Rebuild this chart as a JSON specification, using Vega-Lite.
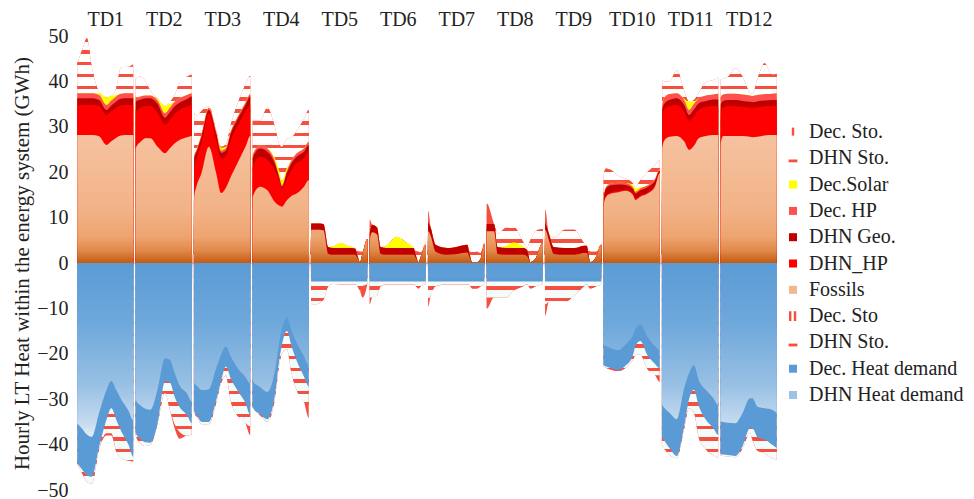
{
"$schema": "https://vega.github.io/schema/vega-lite/v6.json",
"width": 702, "height": 454,
"autosize": {"type": "none"},
"padding": {"left": 76, "top": 36, "right": 196, "bottom": 9},
"background": "white",
"config": {"view": {"stroke": null}, "font": "Liberation Serif"},
"datasets": {
"order": [{"key":"fossils","ord":1},{"key":"dhn_hp","ord":2},{"key":"dhn_geo","ord":3},{"key":"dec_hp","ord":4},{"key":"solar","ord":5},{"key":"dhn_sto","ord":6},{"key":"dec_sto","ord":7},{"key":"dhn_dem","ord":8},{"key":"dec_dem","ord":9},{"key":"dhn_chg","ord":10},{"key":"dec_chg","ord":11}],
"heat": [
{"t":0.5,"fossils":28.2,"dhn_hp":6.6,"dhn_geo":1.5,"dec_hp":1.1,"solar":0,"dhn_sto":6.6,"dec_sto":0,"dhn_dem":-35.3,"dec_dem":-8.8,"dhn_chg":-0.3,"dec_chg":-0.01},
{"t":2.5,"fossils":28.2,"dhn_hp":6.6,"dhn_geo":1.5,"dec_hp":1.1,"solar":0,"dhn_sto":9.5,"dec_sto":0,"dhn_dem":-36.5,"dec_dem":-9.0,"dhn_chg":-0.8,"dec_chg":-0.01},
{"t":4.5,"fossils":28.2,"dhn_hp":6.6,"dhn_geo":1.5,"dec_hp":1.1,"solar":0,"dhn_sto":12.1,"dec_sto":0,"dhn_dem":-37.8,"dec_dem":-9.0,"dhn_chg":-1.5,"dec_chg":-0.01},
{"t":6.5,"fossils":28.2,"dhn_hp":6.6,"dhn_geo":1.5,"dec_hp":1.1,"solar":0,"dhn_sto":5.8,"dec_sto":0,"dhn_dem":-38.3,"dec_dem":-8.8,"dhn_chg":-1.5,"dec_chg":-0.01},
{"t":9.5,"fossils":27.9,"dhn_hp":6.6,"dhn_geo":1.4,"dec_hp":1.1,"solar":0.4,"dhn_sto":0.3,"dec_sto":0,"dhn_dem":-33.0,"dec_dem":-7.5,"dhn_chg":-0.5,"dec_chg":-0.01},
{"t":12.5,"fossils":26.0,"dhn_hp":6.6,"dhn_geo":1.1,"dec_hp":1.1,"solar":1.7,"dhn_sto":0,"dec_sto":0,"dhn_dem":-28.0,"dec_dem":-6.5,"dhn_chg":-3.0,"dec_chg":-0.5},
{"t":14.5,"fossils":26.8,"dhn_hp":6.6,"dhn_geo":1.3,"dec_hp":1.1,"solar":1.0,"dhn_sto":0,"dec_sto":0,"dhn_dem":-26.0,"dec_dem":-6.0,"dhn_chg":-5.5,"dec_chg":-0.5},
{"t":16.5,"fossils":27.6,"dhn_hp":6.6,"dhn_geo":1.4,"dec_hp":1.1,"solar":0.3,"dhn_sto":1.5,"dec_sto":0,"dhn_dem":-28.0,"dec_dem":-6.5,"dhn_chg":-7.0,"dec_chg":-0.01},
{"t":18.5,"fossils":28.1,"dhn_hp":6.6,"dhn_geo":1.5,"dec_hp":1.1,"solar":0,"dhn_sto":5.8,"dec_sto":0,"dhn_dem":-30.0,"dec_dem":-7.0,"dhn_chg":-6.0,"dec_chg":-0.01},
{"t":21.5,"fossils":28.2,"dhn_hp":6.6,"dhn_geo":1.5,"dec_hp":1.1,"solar":0,"dhn_sto":5.8,"dec_sto":0,"dhn_dem":-32.5,"dec_dem":-7.5,"dhn_chg":-3.5,"dec_chg":-0.01},
{"t":23.5,"fossils":28.2,"dhn_hp":6.6,"dhn_geo":1.5,"dec_hp":1.1,"solar":0,"dhn_sto":5.8,"dec_sto":0.5,"dhn_dem":-34.7,"dec_dem":-8.0,"dhn_chg":-1.0,"dec_chg":-0.01},
{"t":23.65,"fossils":0,"dhn_hp":0,"dhn_geo":0,"dec_hp":0,"solar":0,"dhn_sto":0,"dec_sto":0,"dhn_dem":-0.01,"dec_dem":-0.01,"dhn_chg":-0.01,"dec_chg":-0.01},
{"t":24.35,"fossils":0,"dhn_hp":0,"dhn_geo":0,"dec_hp":0,"solar":0,"dhn_sto":0,"dec_sto":0,"dhn_dem":-0.01,"dec_dem":-0.01,"dhn_chg":-0.01,"dec_chg":-0.01},
{"t":24.5,"fossils":25.3,"dhn_hp":8.0,"dhn_geo":2.2,"dec_hp":0.8,"solar":0,"dhn_sto":4.4,"dec_sto":0,"dhn_dem":-30.2,"dec_dem":-7.3,"dhn_chg":-0.5,"dec_chg":-0.01},
{"t":26.5,"fossils":26.7,"dhn_hp":7.5,"dhn_geo":1.8,"dec_hp":0.7,"solar":0,"dhn_sto":4.3,"dec_sto":0,"dhn_dem":-31.4,"dec_dem":-7.4,"dhn_chg":-1.0,"dec_chg":-0.01},
{"t":28.5,"fossils":27.5,"dhn_hp":7.1,"dhn_geo":1.7,"dec_hp":0.6,"solar":0,"dhn_sto":3.1,"dec_sto":0,"dhn_dem":-32.1,"dec_dem":-7.4,"dhn_chg":-0.8,"dec_chg":-0.01},
{"t":30.5,"fossils":27.5,"dhn_hp":7.1,"dhn_geo":1.7,"dec_hp":0.6,"solar":0,"dhn_sto":1.1,"dec_sto":0,"dhn_dem":-32.3,"dec_dem":-7.3,"dhn_chg":-0.5,"dec_chg":-0.01},
{"t":33.5,"fossils":25.6,"dhn_hp":7.4,"dhn_geo":2.0,"dec_hp":0.8,"solar":0.3,"dhn_sto":0,"dec_sto":0,"dhn_dem":-27.8,"dec_dem":-7.5,"dhn_chg":-0.01,"dec_chg":-0.01},
{"t":36.5,"fossils":24.2,"dhn_hp":6.3,"dhn_geo":1.5,"dec_hp":1.0,"solar":1.6,"dhn_sto":0,"dec_sto":0,"dhn_dem":-21.0,"dec_dem":-5.1,"dhn_chg":-2.5,"dec_chg":-0.01},
{"t":38.5,"fossils":25.3,"dhn_hp":6.2,"dhn_geo":1.7,"dec_hp":1.0,"solar":0.8,"dhn_sto":0.5,"dec_sto":0,"dhn_dem":-21.3,"dec_dem":-5.0,"dhn_chg":-6.0,"dec_chg":-0.01},
{"t":40.5,"fossils":26.4,"dhn_hp":6.4,"dhn_geo":1.7,"dec_hp":1.0,"solar":0,"dhn_sto":1.5,"dec_sto":0,"dhn_dem":-24.3,"dec_dem":-5.2,"dhn_chg":-6.0,"dec_chg":-1.0},
{"t":42.5,"fossils":27.1,"dhn_hp":6.6,"dhn_geo":1.6,"dec_hp":1.0,"solar":0,"dhn_sto":3.5,"dec_sto":0,"dhn_dem":-27.0,"dec_dem":-4.7,"dhn_chg":-5.5,"dec_chg":-1.5},
{"t":45.5,"fossils":27.7,"dhn_hp":6.7,"dhn_geo":1.7,"dec_hp":0.9,"solar":0,"dhn_sto":4.0,"dec_sto":0,"dhn_dem":-28.7,"dec_dem":-4.8,"dhn_chg":-4.5,"dec_chg":-0.01},
{"t":47.5,"fossils":28.0,"dhn_hp":6.8,"dhn_geo":1.9,"dec_hp":0.7,"solar":0,"dhn_sto":3.6,"dec_sto":0.5,"dhn_dem":-30.5,"dec_dem":-4.8,"dhn_chg":-2.5,"dec_chg":-0.01},
{"t":47.65,"fossils":0,"dhn_hp":0,"dhn_geo":0,"dec_hp":0,"solar":0,"dhn_sto":0,"dec_sto":0,"dhn_dem":-0.01,"dec_dem":-0.01,"dhn_chg":-0.01,"dec_chg":-0.01},
{"t":48.35,"fossils":0,"dhn_hp":0,"dhn_geo":0,"dec_hp":0,"solar":0,"dhn_sto":0,"dec_sto":0,"dhn_dem":-0.01,"dec_dem":-0.01,"dhn_chg":-0.01,"dec_chg":-0.01},
{"t":48.5,"fossils":14.6,"dhn_hp":6.6,"dhn_geo":1.9,"dec_hp":0.5,"solar":0,"dhn_sto":9.4,"dec_sto":0,"dhn_dem":-26.5,"dec_dem":-6.2,"dhn_chg":-0.3,"dec_chg":-0.01},
{"t":49.5,"fossils":17.0,"dhn_hp":6.0,"dhn_geo":1.5,"dec_hp":0.5,"solar":0,"dhn_sto":7.5,"dec_sto":0,"dhn_dem":-27.0,"dec_dem":-6.5,"dhn_chg":-0.3,"dec_chg":-0.01},
{"t":51.5,"fossils":19.8,"dhn_hp":6.6,"dhn_geo":1.4,"dec_hp":0.5,"solar":0,"dhn_sto":5.2,"dec_sto":0,"dhn_dem":-28.0,"dec_dem":-7.0,"dhn_chg":-0.5,"dec_chg":-0.01},
{"t":54.5,"fossils":25.6,"dhn_hp":7.4,"dhn_geo":0.7,"dec_hp":0.5,"solar":0,"dhn_sto":0.3,"dec_sto":0,"dhn_dem":-27.8,"dec_dem":-7.2,"dhn_chg":-0.5,"dec_chg":-0.01},
{"t":57.5,"fossils":19.8,"dhn_hp":7.3,"dhn_geo":1.4,"dec_hp":0.5,"solar":0,"dhn_sto":0.2,"dec_sto":0,"dhn_dem":-23.2,"dec_dem":-7.1,"dhn_chg":-0.5,"dec_chg":-0.01},
{"t":59.5,"fossils":15.4,"dhn_hp":7.6,"dhn_geo":1.3,"dec_hp":0.5,"solar":0.6,"dhn_sto":0.2,"dec_sto":0,"dhn_dem":-20.2,"dec_dem":-5.8,"dhn_chg":-0.5,"dec_chg":-0.01},
{"t":61.5,"fossils":16.6,"dhn_hp":6.9,"dhn_geo":1.3,"dec_hp":0.5,"solar":0.3,"dhn_sto":0.5,"dec_sto":0,"dhn_dem":-18.4,"dec_dem":-4.4,"dhn_chg":-2.0,"dec_chg":-0.01},
{"t":63.5,"fossils":19.0,"dhn_hp":8.1,"dhn_geo":1.4,"dec_hp":0.5,"solar":0,"dhn_sto":1.5,"dec_sto":0,"dhn_dem":-20.6,"dec_dem":-4.9,"dhn_chg":-5.0,"dec_chg":-0.01},
{"t":66.5,"fossils":22.3,"dhn_hp":8.1,"dhn_geo":1.5,"dec_hp":0.5,"solar":0,"dhn_sto":3.0,"dec_sto":0,"dhn_dem":-23.3,"dec_dem":-5.0,"dhn_chg":-5.5,"dec_chg":-0.01},
{"t":69.5,"fossils":25.6,"dhn_hp":7.7,"dhn_geo":1.5,"dec_hp":0.5,"solar":0,"dhn_sto":4.0,"dec_sto":0,"dhn_dem":-25.1,"dec_dem":-5.7,"dhn_chg":-4.5,"dec_chg":-0.01},
{"t":71.5,"fossils":28.0,"dhn_hp":6.8,"dhn_geo":1.9,"dec_hp":0.5,"solar":0,"dhn_sto":4.0,"dec_sto":0,"dhn_dem":-26.5,"dec_dem":-7.0,"dhn_chg":-2.5,"dec_chg":-2.0},
{"t":71.65,"fossils":0,"dhn_hp":0,"dhn_geo":0,"dec_hp":0,"solar":0,"dhn_sto":0,"dec_sto":0,"dhn_dem":-0.01,"dec_dem":-0.01,"dhn_chg":-0.01,"dec_chg":-0.01},
{"t":72.35,"fossils":0,"dhn_hp":0,"dhn_geo":0,"dec_hp":0,"solar":0,"dhn_sto":0,"dec_sto":0,"dhn_dem":-0.01,"dec_dem":-0.01,"dhn_chg":-0.01,"dec_chg":-0.01},
{"t":72.5,"fossils":14.6,"dhn_hp":6.6,"dhn_geo":1.9,"dec_hp":0.7,"solar":0,"dhn_sto":7.6,"dec_sto":0,"dhn_dem":-26.0,"dec_dem":-5.8,"dhn_chg":-0.01,"dec_chg":-0.01},
{"t":75.5,"fossils":16.8,"dhn_hp":6.6,"dhn_geo":1.8,"dec_hp":0.7,"solar":0,"dhn_sto":5.5,"dec_sto":0,"dhn_dem":-27.3,"dec_dem":-6.0,"dhn_chg":-0.2,"dec_chg":-0.01},
{"t":78.5,"fossils":16.0,"dhn_hp":6.7,"dhn_geo":1.8,"dec_hp":0.7,"solar":0,"dhn_sto":9.0,"dec_sto":0,"dhn_dem":-28.4,"dec_dem":-6.0,"dhn_chg":-0.5,"dec_chg":-0.01},
{"t":81.5,"fossils":13.5,"dhn_hp":7.0,"dhn_geo":1.5,"dec_hp":0.6,"solar":0.6,"dhn_sto":7.0,"dec_sto":0,"dhn_dem":-24.0,"dec_dem":-5.5,"dhn_chg":-0.8,"dec_chg":-0.01},
{"t":83.5,"fossils":12.6,"dhn_hp":5.4,"dhn_geo":0.5,"dec_hp":0.4,"solar":1.2,"dhn_sto":6.0,"dec_sto":0,"dhn_dem":-17.0,"dec_dem":-4.0,"dhn_chg":-1.0,"dec_chg":-0.01},
{"t":84.5,"fossils":12.4,"dhn_hp":4.0,"dhn_geo":0.4,"dec_hp":0.3,"solar":1.0,"dhn_sto":7.5,"dec_sto":0,"dhn_dem":-14.5,"dec_dem":-3.5,"dhn_chg":-2.0,"dec_chg":-0.01},
{"t":86.5,"fossils":13.8,"dhn_hp":4.7,"dhn_geo":1.3,"dec_hp":0.5,"solar":0.6,"dhn_sto":6.5,"dec_sto":0,"dhn_dem":-12.0,"dec_dem":-3.0,"dhn_chg":-4.0,"dec_chg":-0.01},
{"t":88.5,"fossils":14.8,"dhn_hp":5.7,"dhn_geo":1.5,"dec_hp":0.7,"solar":0,"dhn_sto":5.0,"dec_sto":0,"dhn_dem":-15.0,"dec_dem":-3.5,"dhn_chg":-6.0,"dec_chg":-0.01},
{"t":90.5,"fossils":15.3,"dhn_hp":6.7,"dhn_geo":1.4,"dec_hp":0.7,"solar":0,"dhn_sto":5.0,"dec_sto":0,"dhn_dem":-17.5,"dec_dem":-4.0,"dhn_chg":-6.5,"dec_chg":-0.01},
{"t":93.5,"fossils":16.8,"dhn_hp":6.3,"dhn_geo":1.4,"dec_hp":0.7,"solar":0,"dhn_sto":6.5,"dec_sto":0,"dhn_dem":-20.5,"dec_dem":-4.5,"dhn_chg":-5.5,"dec_chg":-0.01},
{"t":95.5,"fossils":18.3,"dhn_hp":6.2,"dhn_geo":1.5,"dec_hp":0.7,"solar":0,"dhn_sto":7.0,"dec_sto":0,"dhn_dem":-22.5,"dec_dem":-4.7,"dhn_chg":-4.0,"dec_chg":-3.0},
{"t":95.65,"fossils":0,"dhn_hp":0,"dhn_geo":0,"dec_hp":0,"solar":0,"dhn_sto":0,"dec_sto":0,"dhn_dem":-0.01,"dec_dem":-0.01,"dhn_chg":-0.01,"dec_chg":-0.01},
{"t":96.35,"fossils":0,"dhn_hp":0,"dhn_geo":0,"dec_hp":0,"solar":0,"dhn_sto":0,"dec_sto":0,"dhn_dem":-0.01,"dec_dem":-0.01,"dhn_chg":-0.01,"dec_chg":-0.01},
{"t":96.5,"fossils":7.3,"dhn_hp":0,"dhn_geo":1.4,"dec_hp":0,"solar":0,"dhn_sto":0,"dec_sto":0,"dhn_dem":-3.2,"dec_dem":-0.9,"dhn_chg":-5.0,"dec_chg":-0.01},
{"t":98.5,"fossils":7.3,"dhn_hp":0,"dhn_geo":1.4,"dec_hp":0,"solar":0,"dhn_sto":0,"dec_sto":0,"dhn_dem":-3.2,"dec_dem":-0.9,"dhn_chg":-5.0,"dec_chg":-0.01},
{"t":101.5,"fossils":7.2,"dhn_hp":0,"dhn_geo":1.4,"dec_hp":0,"solar":0,"dhn_sto":0,"dec_sto":0,"dhn_dem":-3.2,"dec_dem":-0.9,"dhn_chg":-4.0,"dec_chg":-0.01},
{"t":103.5,"fossils":2.0,"dhn_hp":0,"dhn_geo":1.5,"dec_hp":0,"solar":0,"dhn_sto":0,"dec_sto":0,"dhn_dem":-3.2,"dec_dem":-0.9,"dhn_chg":-1.0,"dec_chg":-0.01},
{"t":105.5,"fossils":1.8,"dhn_hp":0,"dhn_geo":1.5,"dec_hp":0,"solar":0.4,"dhn_sto":0,"dec_sto":0,"dhn_dem":-3.2,"dec_dem":-0.9,"dhn_chg":-0.5,"dec_chg":-0.01},
{"t":108.5,"fossils":1.8,"dhn_hp":0,"dhn_geo":1.5,"dec_hp":0,"solar":1.1,"dhn_sto":0,"dec_sto":0,"dhn_dem":-3.2,"dec_dem":-0.9,"dhn_chg":-0.6,"dec_chg":-0.01},
{"t":111.5,"fossils":1.8,"dhn_hp":0,"dhn_geo":1.5,"dec_hp":0,"solar":0.5,"dhn_sto":0,"dec_sto":0,"dhn_dem":-3.2,"dec_dem":-0.9,"dhn_chg":-0.6,"dec_chg":-0.01},
{"t":114.5,"fossils":1.8,"dhn_hp":0,"dhn_geo":1.4,"dec_hp":0,"solar":0,"dhn_sto":0,"dec_sto":0,"dhn_dem":-3.2,"dec_dem":-0.9,"dhn_chg":-0.6,"dec_chg":-0.01},
{"t":115.5,"fossils":1.0,"dhn_hp":0,"dhn_geo":0.6,"dec_hp":0,"solar":0,"dhn_sto":1.0,"dec_sto":0,"dhn_dem":-3.2,"dec_dem":-0.9,"dhn_chg":-1.0,"dec_chg":-0.01},
{"t":116.5,"fossils":0.2,"dhn_hp":0,"dhn_geo":0,"dec_hp":0,"solar":0,"dhn_sto":2.3,"dec_sto":0,"dhn_dem":-3.2,"dec_dem":-0.9,"dhn_chg":-2.0,"dec_chg":-0.01},
{"t":117.5,"fossils":2.0,"dhn_hp":0,"dhn_geo":0,"dec_hp":0,"solar":0,"dhn_sto":0.5,"dec_sto":0,"dhn_dem":-3.2,"dec_dem":-0.9,"dhn_chg":-1.0,"dec_chg":-2.5},
{"t":119.5,"fossils":5.3,"dhn_hp":0,"dhn_geo":0,"dec_hp":0,"solar":0,"dhn_sto":0,"dec_sto":0,"dhn_dem":-3.2,"dec_dem":-0.9,"dhn_chg":-0.5,"dec_chg":-0.01},
{"t":119.65,"fossils":0,"dhn_hp":0,"dhn_geo":0,"dec_hp":0,"solar":0,"dhn_sto":0,"dec_sto":0,"dhn_dem":-0.01,"dec_dem":-0.01,"dhn_chg":-0.01,"dec_chg":-0.01},
{"t":120.35,"fossils":0,"dhn_hp":0,"dhn_geo":0,"dec_hp":0,"solar":0,"dhn_sto":0,"dec_sto":0,"dhn_dem":-0.01,"dec_dem":-0.01,"dhn_chg":-0.01,"dec_chg":-0.01},
{"t":120.5,"fossils":5.0,"dhn_hp":0,"dhn_geo":1.5,"dec_hp":0,"solar":0,"dhn_sto":0,"dec_sto":3.0,"dhn_dem":-3.2,"dec_dem":-0.9,"dhn_chg":-3.5,"dec_chg":-1.5},
{"t":121.5,"fossils":6.8,"dhn_hp":0,"dhn_geo":1.6,"dec_hp":0,"solar":0,"dhn_sto":0,"dec_sto":0,"dhn_dem":-3.2,"dec_dem":-0.9,"dhn_chg":-3.5,"dec_chg":-0.01},
{"t":123.5,"fossils":6.3,"dhn_hp":0,"dhn_geo":1.5,"dec_hp":0,"solar":0,"dhn_sto":0,"dec_sto":0,"dhn_dem":-3.2,"dec_dem":-0.9,"dhn_chg":-3.0,"dec_chg":-0.01},
{"t":125,"fossils":2.0,"dhn_hp":0,"dhn_geo":1.5,"dec_hp":0,"solar":0,"dhn_sto":0,"dec_sto":0,"dhn_dem":-3.2,"dec_dem":-0.9,"dhn_chg":-1.0,"dec_chg":-0.01},
{"t":127.5,"fossils":1.8,"dhn_hp":0,"dhn_geo":1.5,"dec_hp":0,"solar":0.6,"dhn_sto":0,"dec_sto":0,"dhn_dem":-3.2,"dec_dem":-0.9,"dhn_chg":-0.6,"dec_chg":-0.01},
{"t":131.5,"fossils":1.8,"dhn_hp":0,"dhn_geo":1.5,"dec_hp":0,"solar":2.5,"dhn_sto":0,"dec_sto":0,"dhn_dem":-3.2,"dec_dem":-0.9,"dhn_chg":-0.6,"dec_chg":-0.01},
{"t":135.5,"fossils":1.8,"dhn_hp":0,"dhn_geo":1.5,"dec_hp":0,"solar":1.2,"dhn_sto":0,"dec_sto":0,"dhn_dem":-3.2,"dec_dem":-0.9,"dhn_chg":-0.6,"dec_chg":-0.01},
{"t":138.5,"fossils":1.8,"dhn_hp":0,"dhn_geo":1.5,"dec_hp":0,"solar":0,"dhn_sto":0,"dec_sto":0,"dhn_dem":-3.2,"dec_dem":-0.9,"dhn_chg":-0.6,"dec_chg":-0.01},
{"t":139.5,"fossils":1.0,"dhn_hp":0,"dhn_geo":0.6,"dec_hp":0,"solar":0,"dhn_sto":1.0,"dec_sto":0,"dhn_dem":-3.2,"dec_dem":-0.9,"dhn_chg":-1.0,"dec_chg":-0.01},
{"t":140.5,"fossils":0.2,"dhn_hp":0,"dhn_geo":0,"dec_hp":0,"solar":0,"dhn_sto":2.3,"dec_sto":0,"dhn_dem":-3.2,"dec_dem":-0.9,"dhn_chg":-1.5,"dec_chg":-0.01},
{"t":141.5,"fossils":1.5,"dhn_hp":0,"dhn_geo":0,"dec_hp":0,"solar":0,"dhn_sto":0.8,"dec_sto":0,"dhn_dem":-3.2,"dec_dem":-0.9,"dhn_chg":-1.0,"dec_chg":-0.01},
{"t":143.5,"fossils":4.0,"dhn_hp":0,"dhn_geo":0,"dec_hp":0,"solar":0,"dhn_sto":0.5,"dec_sto":0,"dhn_dem":-3.2,"dec_dem":-0.9,"dhn_chg":-0.5,"dec_chg":-0.01},
{"t":143.65,"fossils":0,"dhn_hp":0,"dhn_geo":0,"dec_hp":0,"solar":0,"dhn_sto":0,"dec_sto":0,"dhn_dem":-0.01,"dec_dem":-0.01,"dhn_chg":-0.01,"dec_chg":-0.01},
{"t":144.35,"fossils":0,"dhn_hp":0,"dhn_geo":0,"dec_hp":0,"solar":0,"dhn_sto":0,"dec_sto":0,"dhn_dem":-0.01,"dec_dem":-0.01,"dhn_chg":-0.01,"dec_chg":-0.01},
{"t":144.5,"fossils":7.0,"dhn_hp":0,"dhn_geo":2.0,"dec_hp":0,"solar":0,"dhn_sto":0,"dec_sto":2.5,"dhn_dem":-3.2,"dec_dem":-0.9,"dhn_chg":-4.0,"dec_chg":-1.5},
{"t":145.5,"fossils":6.0,"dhn_hp":0,"dhn_geo":1.8,"dec_hp":0,"solar":0,"dhn_sto":0,"dec_sto":0,"dhn_dem":-3.2,"dec_dem":-0.9,"dhn_chg":-3.0,"dec_chg":-0.01},
{"t":147.5,"fossils":2.5,"dhn_hp":0,"dhn_geo":1.5,"dec_hp":0,"solar":0,"dhn_sto":0,"dec_sto":0,"dhn_dem":-3.2,"dec_dem":-0.9,"dhn_chg":-1.0,"dec_chg":-0.01},
{"t":152.5,"fossils":1.8,"dhn_hp":0,"dhn_geo":1.5,"dec_hp":0,"solar":0,"dhn_sto":0,"dec_sto":0,"dhn_dem":-3.2,"dec_dem":-0.9,"dhn_chg":-0.6,"dec_chg":-0.01},
{"t":156.5,"fossils":2.0,"dhn_hp":0,"dhn_geo":1.6,"dec_hp":0,"solar":0,"dhn_sto":0,"dec_sto":0,"dhn_dem":-3.2,"dec_dem":-0.9,"dhn_chg":-0.6,"dec_chg":-0.01},
{"t":160.5,"fossils":2.3,"dhn_hp":0,"dhn_geo":1.7,"dec_hp":0,"solar":0,"dhn_sto":0,"dec_sto":0,"dhn_dem":-3.2,"dec_dem":-0.9,"dhn_chg":-0.6,"dec_chg":-0.01},
{"t":161.5,"fossils":1.2,"dhn_hp":0,"dhn_geo":0.8,"dec_hp":0,"solar":0,"dhn_sto":0.5,"dec_sto":0,"dhn_dem":-3.2,"dec_dem":-0.9,"dhn_chg":-0.8,"dec_chg":-0.01},
{"t":162.5,"fossils":0.2,"dhn_hp":0,"dhn_geo":0,"dec_hp":0,"solar":0,"dhn_sto":2.2,"dec_sto":0,"dhn_dem":-3.2,"dec_dem":-0.9,"dhn_chg":-1.5,"dec_chg":-0.01},
{"t":164.5,"fossils":0.2,"dhn_hp":0,"dhn_geo":0,"dec_hp":0,"solar":0,"dhn_sto":2.3,"dec_sto":0,"dhn_dem":-3.2,"dec_dem":-0.9,"dhn_chg":-1.5,"dec_chg":-0.01},
{"t":166,"fossils":1.0,"dhn_hp":0,"dhn_geo":0,"dec_hp":0,"solar":0,"dhn_sto":1.2,"dec_sto":0,"dhn_dem":-3.2,"dec_dem":-0.9,"dhn_chg":-1.0,"dec_chg":-0.01},
{"t":167.5,"fossils":4.2,"dhn_hp":0,"dhn_geo":0,"dec_hp":0,"solar":0,"dhn_sto":0.3,"dec_sto":0,"dhn_dem":-3.2,"dec_dem":-0.9,"dhn_chg":-0.5,"dec_chg":-0.01},
{"t":167.65,"fossils":0,"dhn_hp":0,"dhn_geo":0,"dec_hp":0,"solar":0,"dhn_sto":0,"dec_sto":0,"dhn_dem":-0.01,"dec_dem":-0.01,"dhn_chg":-0.01,"dec_chg":-0.01},
{"t":168.35,"fossils":0,"dhn_hp":0,"dhn_geo":0,"dec_hp":0,"solar":0,"dhn_sto":0,"dec_sto":0,"dhn_dem":-0.01,"dec_dem":-0.01,"dhn_chg":-0.01,"dec_chg":-0.01},
{"t":168.5,"fossils":7.0,"dhn_hp":0,"dhn_geo":1.6,"dec_hp":0,"solar":0,"dhn_sto":0,"dec_sto":4.5,"dhn_dem":-3.2,"dec_dem":-0.9,"dhn_chg":-3.5,"dec_chg":-2.5},
{"t":171.5,"fossils":7.0,"dhn_hp":0,"dhn_geo":1.6,"dec_hp":0,"solar":0,"dhn_sto":0,"dec_sto":0,"dhn_dem":-3.2,"dec_dem":-0.9,"dhn_chg":-3.5,"dec_chg":-0.01},
{"t":173,"fossils":2.0,"dhn_hp":0,"dhn_geo":1.5,"dec_hp":0,"solar":0,"dhn_sto":3.0,"dec_sto":0,"dhn_dem":-3.2,"dec_dem":-0.9,"dhn_chg":-3.5,"dec_chg":-0.01},
{"t":176.5,"fossils":1.8,"dhn_hp":0,"dhn_geo":1.5,"dec_hp":0,"solar":0.5,"dhn_sto":4.0,"dec_sto":0,"dhn_dem":-3.2,"dec_dem":-0.9,"dhn_chg":-3.5,"dec_chg":-0.01},
{"t":179.5,"fossils":1.8,"dhn_hp":0,"dhn_geo":1.5,"dec_hp":0,"solar":1.2,"dhn_sto":3.5,"dec_sto":0,"dhn_dem":-3.2,"dec_dem":-0.9,"dhn_chg":-2.0,"dec_chg":-0.01},
{"t":183.5,"fossils":1.8,"dhn_hp":0,"dhn_geo":1.5,"dec_hp":0,"solar":0.3,"dhn_sto":1.0,"dec_sto":0,"dhn_dem":-3.2,"dec_dem":-0.9,"dhn_chg":-1.0,"dec_chg":-0.01},
{"t":185,"fossils":1.5,"dhn_hp":0,"dhn_geo":1.4,"dec_hp":0,"solar":0,"dhn_sto":0.5,"dec_sto":0,"dhn_dem":-3.2,"dec_dem":-0.9,"dhn_chg":-0.6,"dec_chg":-0.01},
{"t":186.5,"fossils":0.2,"dhn_hp":0,"dhn_geo":0,"dec_hp":0,"solar":0,"dhn_sto":5.0,"dec_sto":0,"dhn_dem":-3.2,"dec_dem":-0.9,"dhn_chg":-1.5,"dec_chg":-0.01},
{"t":188.5,"fossils":1.0,"dhn_hp":0,"dhn_geo":0,"dec_hp":0,"solar":0,"dhn_sto":6.0,"dec_sto":0,"dhn_dem":-3.2,"dec_dem":-0.9,"dhn_chg":-1.0,"dec_chg":-0.01},
{"t":191.5,"fossils":4.5,"dhn_hp":0,"dhn_geo":0,"dec_hp":0,"solar":0,"dhn_sto":3.0,"dec_sto":0,"dhn_dem":-3.2,"dec_dem":-0.9,"dhn_chg":-0.5,"dec_chg":-0.01},
{"t":191.65,"fossils":0,"dhn_hp":0,"dhn_geo":0,"dec_hp":0,"solar":0,"dhn_sto":0,"dec_sto":0,"dhn_dem":-0.01,"dec_dem":-0.01,"dhn_chg":-0.01,"dec_chg":-0.01},
{"t":192.35,"fossils":0,"dhn_hp":0,"dhn_geo":0,"dec_hp":0,"solar":0,"dhn_sto":0,"dec_sto":0,"dhn_dem":-0.01,"dec_dem":-0.01,"dhn_chg":-0.01,"dec_chg":-0.01},
{"t":192.5,"fossils":7.3,"dhn_hp":0,"dhn_geo":1.5,"dec_hp":0,"solar":0,"dhn_sto":0,"dec_sto":3.0,"dhn_dem":-3.2,"dec_dem":-0.9,"dhn_chg":-5.0,"dec_chg":-2.5},
{"t":194,"fossils":5.0,"dhn_hp":0,"dhn_geo":1.5,"dec_hp":0,"solar":0,"dhn_sto":0,"dec_sto":0,"dhn_dem":-3.2,"dec_dem":-0.9,"dhn_chg":-4.5,"dec_chg":-0.01},
{"t":196,"fossils":2.0,"dhn_hp":0,"dhn_geo":1.5,"dec_hp":0,"solar":0,"dhn_sto":2.0,"dec_sto":0,"dhn_dem":-3.2,"dec_dem":-0.9,"dhn_chg":-4.5,"dec_chg":-0.01},
{"t":200.5,"fossils":1.8,"dhn_hp":0,"dhn_geo":1.5,"dec_hp":0,"solar":0,"dhn_sto":4.0,"dec_sto":0,"dhn_dem":-3.2,"dec_dem":-0.9,"dhn_chg":-4.5,"dec_chg":-0.01},
{"t":204.5,"fossils":1.8,"dhn_hp":0,"dhn_geo":1.5,"dec_hp":0,"solar":0,"dhn_sto":4.0,"dec_sto":0,"dhn_dem":-3.2,"dec_dem":-0.9,"dhn_chg":-3.0,"dec_chg":-0.01},
{"t":208.5,"fossils":2.2,"dhn_hp":0,"dhn_geo":1.6,"dec_hp":0,"solar":0,"dhn_sto":0.5,"dec_sto":0,"dhn_dem":-3.2,"dec_dem":-0.9,"dhn_chg":-1.0,"dec_chg":-0.01},
{"t":209.5,"fossils":2.2,"dhn_hp":0,"dhn_geo":1.6,"dec_hp":0,"solar":0,"dhn_sto":0,"dec_sto":0,"dhn_dem":-3.2,"dec_dem":-0.9,"dhn_chg":-0.6,"dec_chg":-0.01},
{"t":211,"fossils":0.2,"dhn_hp":0,"dhn_geo":0,"dec_hp":0,"solar":0,"dhn_sto":2.3,"dec_sto":0,"dhn_dem":-3.2,"dec_dem":-0.9,"dhn_chg":-1.5,"dec_chg":-0.01},
{"t":213.5,"fossils":1.5,"dhn_hp":0,"dhn_geo":0,"dec_hp":0,"solar":0,"dhn_sto":1.0,"dec_sto":0,"dhn_dem":-3.2,"dec_dem":-0.9,"dhn_chg":-1.0,"dec_chg":-0.01},
{"t":215.5,"fossils":4.0,"dhn_hp":0,"dhn_geo":0,"dec_hp":0,"solar":0,"dhn_sto":0.3,"dec_sto":0,"dhn_dem":-3.2,"dec_dem":-0.9,"dhn_chg":-0.5,"dec_chg":-0.01},
{"t":215.65,"fossils":0,"dhn_hp":0,"dhn_geo":0,"dec_hp":0,"solar":0,"dhn_sto":0,"dec_sto":0,"dhn_dem":-0.01,"dec_dem":-0.01,"dhn_chg":-0.01,"dec_chg":-0.01},
{"t":216.35,"fossils":0,"dhn_hp":0,"dhn_geo":0,"dec_hp":0,"solar":0,"dhn_sto":0,"dec_sto":0,"dhn_dem":-0.01,"dec_dem":-0.01,"dhn_chg":-0.01,"dec_chg":-0.01},
{"t":216.5,"fossils":12.8,"dhn_hp":0.3,"dhn_geo":1.1,"dec_hp":0.4,"solar":0,"dhn_sto":5.0,"dec_sto":0,"dhn_dem":-18.1,"dec_dem":-4.4,"dhn_chg":-0.3,"dec_chg":-0.01},
{"t":217.5,"fossils":14.6,"dhn_hp":0.3,"dhn_geo":1.5,"dec_hp":0.4,"solar":0,"dhn_sto":4.0,"dec_sto":0,"dhn_dem":-18.3,"dec_dem":-4.5,"dhn_chg":-0.3,"dec_chg":-0.01},
{"t":219.5,"fossils":15.3,"dhn_hp":0.3,"dhn_geo":1.5,"dec_hp":0.4,"solar":0,"dhn_sto":3.0,"dec_sto":0,"dhn_dem":-18.8,"dec_dem":-4.4,"dhn_chg":-0.3,"dec_chg":-0.01},
{"t":222.5,"fossils":15.6,"dhn_hp":0.3,"dhn_geo":1.4,"dec_hp":0.4,"solar":0,"dhn_sto":1.5,"dec_sto":0,"dhn_dem":-19.2,"dec_dem":-4.4,"dhn_chg":-0.2,"dec_chg":-0.01},
{"t":225.5,"fossils":15.9,"dhn_hp":0.3,"dhn_geo":1.0,"dec_hp":0.4,"solar":0,"dhn_sto":1.0,"dec_sto":0,"dhn_dem":-17.9,"dec_dem":-4.7,"dhn_chg":-0.5,"dec_chg":-0.01},
{"t":228.5,"fossils":15.0,"dhn_hp":0.3,"dhn_geo":1.0,"dec_hp":0.4,"solar":0.5,"dhn_sto":0.3,"dec_sto":0,"dhn_dem":-15.9,"dec_dem":-4.4,"dhn_chg":-1.0,"dec_chg":-0.01},
{"t":229.5,"fossils":13.9,"dhn_hp":0.3,"dhn_geo":1.1,"dec_hp":0.4,"solar":0.7,"dhn_sto":0.3,"dec_sto":0,"dhn_dem":-14.5,"dec_dem":-3.8,"dhn_chg":-2.0,"dec_chg":-0.01},
{"t":231.5,"fossils":14.6,"dhn_hp":0.3,"dhn_geo":1.1,"dec_hp":0.4,"solar":0.3,"dhn_sto":1.5,"dec_sto":0,"dhn_dem":-13.5,"dec_dem":-3.7,"dhn_chg":-3.0,"dec_chg":-0.01},
{"t":234.5,"fossils":15.3,"dhn_hp":0.3,"dhn_geo":1.1,"dec_hp":0.4,"solar":0,"dhn_sto":3.0,"dec_sto":0,"dhn_dem":-16.3,"dec_dem":-4.1,"dhn_chg":-3.0,"dec_chg":-0.01},
{"t":237.5,"fossils":16.8,"dhn_hp":0.3,"dhn_geo":1.0,"dec_hp":0.4,"solar":0,"dhn_sto":3.0,"dec_sto":0,"dhn_dem":-18.3,"dec_dem":-3.9,"dhn_chg":-2.5,"dec_chg":-0.01},
{"t":239.5,"fossils":19.8,"dhn_hp":0.2,"dhn_geo":0.3,"dec_hp":0.4,"solar":0,"dhn_sto":2.0,"dec_sto":0,"dhn_dem":-19.2,"dec_dem":-4.0,"dhn_chg":-1.5,"dec_chg":-1.5},
{"t":239.65,"fossils":0,"dhn_hp":0,"dhn_geo":0,"dec_hp":0,"solar":0,"dhn_sto":0,"dec_sto":0,"dhn_dem":-0.01,"dec_dem":-0.01,"dhn_chg":-0.01,"dec_chg":-0.01},
{"t":240.35,"fossils":0,"dhn_hp":0,"dhn_geo":0,"dec_hp":0,"solar":0,"dhn_sto":0,"dec_sto":0,"dhn_dem":-0.01,"dec_dem":-0.01,"dhn_chg":-0.01,"dec_chg":-0.01},
{"t":240.5,"fossils":25.3,"dhn_hp":6.6,"dhn_geo":1.8,"dec_hp":1.1,"solar":0,"dhn_sto":5.5,"dec_sto":0,"dhn_dem":-31.3,"dec_dem":-7.0,"dhn_chg":-2.0,"dec_chg":-0.01},
{"t":241.5,"fossils":27.1,"dhn_hp":7.0,"dhn_geo":1.1,"dec_hp":1.3,"solar":0,"dhn_sto":3.5,"dec_sto":0,"dhn_dem":-32.0,"dec_dem":-7.2,"dhn_chg":-1.8,"dec_chg":-0.01},
{"t":243.5,"fossils":27.8,"dhn_hp":6.8,"dhn_geo":1.3,"dec_hp":1.3,"solar":0,"dhn_sto":2.8,"dec_sto":0,"dhn_dem":-33.0,"dec_dem":-7.8,"dhn_chg":-1.5,"dec_chg":-0.01},
{"t":246.5,"fossils":28.0,"dhn_hp":6.8,"dhn_geo":1.5,"dec_hp":1.1,"solar":0,"dhn_sto":5.1,"dec_sto":0,"dhn_dem":-34.4,"dec_dem":-8.1,"dhn_chg":-0.5,"dec_chg":-0.01},
{"t":249.5,"fossils":26.8,"dhn_hp":6.5,"dhn_geo":1.5,"dec_hp":1.1,"solar":0.3,"dhn_sto":1.8,"dec_sto":0,"dhn_dem":-27.6,"dec_dem":-8.4,"dhn_chg":-0.5,"dec_chg":-0.01},
{"t":251.5,"fossils":24.9,"dhn_hp":6.4,"dhn_geo":1.3,"dec_hp":1.1,"solar":1.8,"dhn_sto":0,"dec_sto":0,"dhn_dem":-24.3,"dec_dem":-5.7,"dhn_chg":-2.0,"dec_chg":-0.01},
{"t":253.5,"fossils":25.8,"dhn_hp":6.5,"dhn_geo":1.5,"dec_hp":1.2,"solar":0.6,"dhn_sto":0.3,"dec_sto":0,"dhn_dem":-22.5,"dec_dem":-5.4,"dhn_chg":-5.0,"dec_chg":-0.01},
{"t":255.5,"fossils":27.5,"dhn_hp":6.2,"dhn_geo":1.5,"dec_hp":1.1,"solar":0,"dhn_sto":1.2,"dec_sto":0,"dhn_dem":-25.8,"dec_dem":-5.7,"dhn_chg":-7.0,"dec_chg":-0.01},
{"t":258.5,"fossils":28.0,"dhn_hp":6.4,"dhn_geo":1.3,"dec_hp":1.2,"solar":0,"dhn_sto":3.0,"dec_sto":0,"dhn_dem":-28.0,"dec_dem":-6.6,"dhn_chg":-6.5,"dec_chg":-0.01},
{"t":261.5,"fossils":28.2,"dhn_hp":6.4,"dhn_geo":1.4,"dec_hp":1.1,"solar":0,"dhn_sto":3.2,"dec_sto":0,"dhn_dem":-29.8,"dec_dem":-6.6,"dhn_chg":-6.0,"dec_chg":-0.01},
{"t":263.5,"fossils":28.2,"dhn_hp":6.4,"dhn_geo":1.4,"dec_hp":1.3,"solar":0,"dhn_sto":3.5,"dec_sto":0,"dhn_dem":-31.3,"dec_dem":-6.6,"dhn_chg":-5.0,"dec_chg":-0.01},
{"t":263.65,"fossils":0,"dhn_hp":0,"dhn_geo":0,"dec_hp":0,"solar":0,"dhn_sto":0,"dec_sto":0,"dhn_dem":-0.01,"dec_dem":-0.01,"dhn_chg":-0.01,"dec_chg":-0.01},
{"t":264.35,"fossils":0,"dhn_hp":0,"dhn_geo":0,"dec_hp":0,"solar":0,"dhn_sto":0,"dec_sto":0,"dhn_dem":-0.01,"dec_dem":-0.01,"dhn_chg":-0.01,"dec_chg":-0.01},
{"t":264.5,"fossils":26.4,"dhn_hp":6.6,"dhn_geo":2.0,"dec_hp":1.5,"solar":0,"dhn_sto":4.0,"dec_sto":0,"dhn_dem":-34.9,"dec_dem":-7.2,"dhn_chg":-0.3,"dec_chg":-0.01},
{"t":265.5,"fossils":28.0,"dhn_hp":6.3,"dhn_geo":1.4,"dec_hp":1.4,"solar":0,"dhn_sto":3.5,"dec_sto":0,"dhn_dem":-35.0,"dec_dem":-7.2,"dhn_chg":-0.3,"dec_chg":-0.01},
{"t":267.5,"fossils":28.0,"dhn_hp":6.6,"dhn_geo":1.3,"dec_hp":1.4,"solar":0,"dhn_sto":3.7,"dec_sto":0,"dhn_dem":-35.2,"dec_dem":-7.1,"dhn_chg":-0.3,"dec_chg":-0.01},
{"t":270.5,"fossils":28.0,"dhn_hp":6.5,"dhn_geo":1.4,"dec_hp":1.4,"solar":0,"dhn_sto":5.6,"dec_sto":0,"dhn_dem":-35.3,"dec_dem":-7.2,"dhn_chg":-0.3,"dec_chg":-0.01},
{"t":273.5,"fossils":28.0,"dhn_hp":6.4,"dhn_geo":1.3,"dec_hp":1.4,"solar":0,"dhn_sto":3.9,"dec_sto":0,"dhn_dem":-33.0,"dec_dem":-7.3,"dhn_chg":-0.5,"dec_chg":-0.01},
{"t":276.5,"fossils":27.8,"dhn_hp":6.4,"dhn_geo":1.3,"dec_hp":1.4,"solar":0,"dhn_sto":0.6,"dec_sto":0,"dhn_dem":-29.8,"dec_dem":-6.6,"dhn_chg":-1.0,"dec_chg":-0.01},
{"t":277.5,"fossils":27.7,"dhn_hp":6.5,"dhn_geo":1.2,"dec_hp":1.4,"solar":0,"dhn_sto":0.4,"dec_sto":0,"dhn_dem":-29.8,"dec_dem":-6.6,"dhn_chg":-2.5,"dec_chg":-0.01},
{"t":279.5,"fossils":27.8,"dhn_hp":6.5,"dhn_geo":1.3,"dec_hp":1.4,"solar":0,"dhn_sto":3.5,"dec_sto":0,"dhn_dem":-31.6,"dec_dem":-6.7,"dhn_chg":-3.0,"dec_chg":-0.01},
{"t":282.5,"fossils":28.1,"dhn_hp":6.4,"dhn_geo":1.3,"dec_hp":1.4,"solar":0,"dhn_sto":6.8,"dec_sto":0,"dhn_dem":-32.0,"dec_dem":-6.9,"dhn_chg":-3.0,"dec_chg":-0.01},
{"t":285.5,"fossils":28.2,"dhn_hp":6.4,"dhn_geo":1.3,"dec_hp":1.4,"solar":0,"dhn_sto":4.2,"dec_sto":0,"dhn_dem":-32.3,"dec_dem":-7.7,"dhn_chg":-3.0,"dec_chg":-0.01},
{"t":287.5,"fossils":28.2,"dhn_hp":6.4,"dhn_geo":1.3,"dec_hp":1.5,"solar":0,"dhn_sto":4.3,"dec_sto":0,"dhn_dem":-33.0,"dec_dem":-7.8,"dhn_chg":-2.5,"dec_chg":-0.01}
]},
"layer": [
{
"data": {"name": "heat"},
"transform": [
{"fold": ["fossils","dhn_hp","dhn_geo","dec_hp","solar","dhn_sto","dec_sto","dhn_dem","dec_dem","dhn_chg","dec_chg"], "as": ["key","value"]},
{"lookup": "key", "from": {"data": {"name": "order"}, "key": "key", "fields": ["ord"]}},
{"stack": "value", "groupby": ["t"], "sort": [{"field": "ord", "order": "ascending"}], "as": ["v0","v1"], "offset": "zero"}
],
"encoding": {
"x": {"field": "t", "type": "quantitative", "scale": {"domain": [0, 288], "nice": false, "zero": false},
 "axis": {"orient": "top", "values": [12,36,60,84,108,132,156,180,204,228,252,276], "labelExpr": "'TD' + (floor(datum.value / 24) + 1)", "domain": false, "ticks": false, "grid": false, "labelFont": "Liberation Serif", "labelFontSize": 20, "labelColor": "#222222", "labelPadding": 7, "title": null}},
"y": {"field": "v1", "type": "quantitative", "scale": {"domain": [-50, 50], "nice": false},
 "axis": {"values": [-50,-40,-30,-20,-10,0,10,20,30,40,50], "domain": false, "ticks": false, "grid": false, "labelFont": "Liberation Serif", "labelFontSize": 20, "labelColor": "#222222", "labelPadding": 8, "title": "Hourly LT Heat within the energy system (GWh)", "titleFont": "Liberation Serif", "titleFontSize": 21, "titleFontWeight": "normal", "titleColor": "#222222", "titlePadding": 4}},
"y2": {"datum": 0}
},
"layer": [
{"transform": [{"filter": "datum.key === 'dec_sto'"}], "encoding": {"y2": {"field": "v0"}}, "mark": {"type": "area", "interpolate": "monotone", "color": "#f5503f"}},
{"transform": [{"filter": "datum.key === 'dhn_sto'"}], "mark": {"type": "area", "interpolate": "monotone", "color": {"gradient": "linear", "x1": 0, "y1": 0, "x2": 0, "y2": 1, "stops": [
{"offset":0,"color":"#f5503f"},{"offset":0.0158,"color":"#f5503f"},{"offset":0.0158,"color":"#ffffff"},{"offset":0.0526,"color":"#ffffff"},
{"offset":0.0526,"color":"#f5503f"},{"offset":0.0684,"color":"#f5503f"},{"offset":0.0684,"color":"#ffffff"},{"offset":0.1053,"color":"#ffffff"},
{"offset":0.1053,"color":"#f5503f"},{"offset":0.1211,"color":"#f5503f"},{"offset":0.1211,"color":"#ffffff"},{"offset":0.1579,"color":"#ffffff"},
{"offset":0.1579,"color":"#f5503f"},{"offset":0.1737,"color":"#f5503f"},{"offset":0.1737,"color":"#ffffff"},{"offset":0.2105,"color":"#ffffff"},
{"offset":0.2105,"color":"#f5503f"},{"offset":0.2263,"color":"#f5503f"},{"offset":0.2263,"color":"#ffffff"},{"offset":0.2632,"color":"#ffffff"},
{"offset":0.2632,"color":"#f5503f"},{"offset":0.2790,"color":"#f5503f"},{"offset":0.2790,"color":"#ffffff"},{"offset":0.3158,"color":"#ffffff"},
{"offset":0.3158,"color":"#f5503f"},{"offset":0.3316,"color":"#f5503f"},{"offset":0.3316,"color":"#ffffff"},{"offset":0.3684,"color":"#ffffff"},
{"offset":0.3684,"color":"#f5503f"},{"offset":0.3842,"color":"#f5503f"},{"offset":0.3842,"color":"#ffffff"},{"offset":0.4211,"color":"#ffffff"},
{"offset":0.4211,"color":"#f5503f"},{"offset":0.4369,"color":"#f5503f"},{"offset":0.4369,"color":"#ffffff"},{"offset":0.4737,"color":"#ffffff"},
{"offset":0.4737,"color":"#f5503f"},{"offset":0.4895,"color":"#f5503f"},{"offset":0.4895,"color":"#ffffff"},{"offset":0.5263,"color":"#ffffff"},
{"offset":0.5263,"color":"#f5503f"},{"offset":0.5421,"color":"#f5503f"},{"offset":0.5421,"color":"#ffffff"},{"offset":0.5789,"color":"#ffffff"},
{"offset":0.5789,"color":"#f5503f"},{"offset":0.5947,"color":"#f5503f"},{"offset":0.5947,"color":"#ffffff"},{"offset":0.6316,"color":"#ffffff"},
{"offset":0.6316,"color":"#f5503f"},{"offset":0.6474,"color":"#f5503f"},{"offset":0.6474,"color":"#ffffff"},{"offset":0.6842,"color":"#ffffff"},
{"offset":0.6842,"color":"#f5503f"},{"offset":0.7000,"color":"#f5503f"},{"offset":0.7000,"color":"#ffffff"},{"offset":0.7368,"color":"#ffffff"},
{"offset":0.7368,"color":"#f5503f"},{"offset":0.7526,"color":"#f5503f"},{"offset":0.7526,"color":"#ffffff"},{"offset":0.7895,"color":"#ffffff"},
{"offset":0.7895,"color":"#f5503f"},{"offset":0.8053,"color":"#f5503f"},{"offset":0.8053,"color":"#ffffff"},{"offset":0.8421,"color":"#ffffff"},
{"offset":0.8421,"color":"#f5503f"},{"offset":0.8579,"color":"#f5503f"},{"offset":0.8579,"color":"#ffffff"},{"offset":0.8947,"color":"#ffffff"},
{"offset":0.8947,"color":"#f5503f"},{"offset":0.9105,"color":"#f5503f"},{"offset":0.9105,"color":"#ffffff"},{"offset":0.9474,"color":"#ffffff"},
{"offset":0.9474,"color":"#f5503f"},{"offset":0.9632,"color":"#f5503f"},{"offset":0.9632,"color":"#ffffff"},{"offset":1,"color":"#ffffff"}
]}}},
{"transform": [{"filter": "datum.key === 'solar'"}], "mark": {"type": "area", "interpolate": "monotone", "color": "#ffff00"}},
{"transform": [{"filter": "datum.key === 'dec_hp'"}], "mark": {"type": "area", "interpolate": "monotone", "color": "#ff5050"}},
{"transform": [{"filter": "datum.key === 'dhn_geo'"}], "mark": {"type": "area", "interpolate": "monotone", "color": "#c00000"}},
{"transform": [{"filter": "datum.key === 'dhn_hp'"}], "mark": {"type": "area", "interpolate": "monotone", "color": "#ff0000"}},
{"transform": [{"filter": "datum.key === 'fossils'"}], "mark": {"type": "area", "interpolate": "monotone", "color": {"gradient": "linear", "x1": 0, "y1": 0, "x2": 0, "y2": 1, "stops": [{"offset": 0, "color": "#f6c2a0"}, {"offset": 0.6, "color": "#f2b286"}, {"offset": 0.8, "color": "#eda36e"}, {"offset": 0.9, "color": "#e08a4c"}, {"offset": 1, "color": "#c55a11"}]}}},
{"transform": [{"filter": "datum.key === 'dec_chg'"}], "encoding": {"y2": {"field": "v0"}}, "mark": {"type": "area", "interpolate": "monotone", "color": "#f5503f"}},
{"transform": [{"filter": "datum.key === 'dhn_chg'"}], "mark": {"type": "area", "interpolate": "monotone", "color": {"gradient": "linear", "x1": 0, "y1": 0, "x2": 0, "y2": 1, "stops": [
{"offset":0,"color":"#f5503f"},{"offset":0.0158,"color":"#f5503f"},{"offset":0.0158,"color":"#f3fbfb"},{"offset":0.0526,"color":"#f3fbfb"},
{"offset":0.0526,"color":"#f5503f"},{"offset":0.0684,"color":"#f5503f"},{"offset":0.0684,"color":"#f3fbfb"},{"offset":0.1053,"color":"#f3fbfb"},
{"offset":0.1053,"color":"#f5503f"},{"offset":0.1211,"color":"#f5503f"},{"offset":0.1211,"color":"#f3fbfb"},{"offset":0.1579,"color":"#f3fbfb"},
{"offset":0.1579,"color":"#f5503f"},{"offset":0.1737,"color":"#f5503f"},{"offset":0.1737,"color":"#f3fbfb"},{"offset":0.2105,"color":"#f3fbfb"},
{"offset":0.2105,"color":"#f5503f"},{"offset":0.2263,"color":"#f5503f"},{"offset":0.2263,"color":"#f3fbfb"},{"offset":0.2632,"color":"#f3fbfb"},
{"offset":0.2632,"color":"#f5503f"},{"offset":0.2790,"color":"#f5503f"},{"offset":0.2790,"color":"#f3fbfb"},{"offset":0.3158,"color":"#f3fbfb"},
{"offset":0.3158,"color":"#f5503f"},{"offset":0.3316,"color":"#f5503f"},{"offset":0.3316,"color":"#f3fbfb"},{"offset":0.3684,"color":"#f3fbfb"},
{"offset":0.3684,"color":"#f5503f"},{"offset":0.3842,"color":"#f5503f"},{"offset":0.3842,"color":"#f3fbfb"},{"offset":0.4211,"color":"#f3fbfb"},
{"offset":0.4211,"color":"#f5503f"},{"offset":0.4369,"color":"#f5503f"},{"offset":0.4369,"color":"#f3fbfb"},{"offset":0.4737,"color":"#f3fbfb"},
{"offset":0.4737,"color":"#f5503f"},{"offset":0.4895,"color":"#f5503f"},{"offset":0.4895,"color":"#f3fbfb"},{"offset":0.5263,"color":"#f3fbfb"},
{"offset":0.5263,"color":"#f5503f"},{"offset":0.5421,"color":"#f5503f"},{"offset":0.5421,"color":"#f3fbfb"},{"offset":0.5789,"color":"#f3fbfb"},
{"offset":0.5789,"color":"#f5503f"},{"offset":0.5947,"color":"#f5503f"},{"offset":0.5947,"color":"#f3fbfb"},{"offset":0.6316,"color":"#f3fbfb"},
{"offset":0.6316,"color":"#f5503f"},{"offset":0.6474,"color":"#f5503f"},{"offset":0.6474,"color":"#f3fbfb"},{"offset":0.6842,"color":"#f3fbfb"},
{"offset":0.6842,"color":"#f5503f"},{"offset":0.7000,"color":"#f5503f"},{"offset":0.7000,"color":"#f3fbfb"},{"offset":0.7368,"color":"#f3fbfb"},
{"offset":0.7368,"color":"#f5503f"},{"offset":0.7526,"color":"#f5503f"},{"offset":0.7526,"color":"#f3fbfb"},{"offset":0.7895,"color":"#f3fbfb"},
{"offset":0.7895,"color":"#f5503f"},{"offset":0.8053,"color":"#f5503f"},{"offset":0.8053,"color":"#f3fbfb"},{"offset":0.8421,"color":"#f3fbfb"},
{"offset":0.8421,"color":"#f5503f"},{"offset":0.8579,"color":"#f5503f"},{"offset":0.8579,"color":"#f3fbfb"},{"offset":0.8947,"color":"#f3fbfb"},
{"offset":0.8947,"color":"#f5503f"},{"offset":0.9105,"color":"#f5503f"},{"offset":0.9105,"color":"#f3fbfb"},{"offset":0.9474,"color":"#f3fbfb"},
{"offset":0.9474,"color":"#f5503f"},{"offset":0.9632,"color":"#f5503f"},{"offset":0.9632,"color":"#f3fbfb"},{"offset":1,"color":"#f3fbfb"}
]}}},
{"transform": [{"filter": "datum.key === 'dec_dem'"}], "mark": {"type": "area", "interpolate": "monotone", "color": "#5b9bd5"}},
{"transform": [{"filter": "datum.key === 'dhn_dem'"}], "mark": {"type": "area", "interpolate": "monotone", "color": {"gradient": "linear", "x1": 0, "y1": 0, "x2": 0, "y2": 1, "stops": [{"offset": 0, "color": "#5b9bd5"}, {"offset": 0.35, "color": "#6fa8db"}, {"offset": 0.7, "color": "#98c0e4"}, {"offset": 0.92, "color": "#c5dbf0"}, {"offset": 1, "color": "#e3eef8"}]}}}
]
},
{
"data": {"values": [{"series":"Dec. Sto."},{"series":"DHN Sto."},{"series":"Dec.Solar"},{"series":"Dec. HP"},{"series":"DHN Geo."},{"series":"DHN_HP"},{"series":"Fossils"},{"series":"Dec. Sto"},{"series":"DHN Sto. "},{"series":"Dec. Heat demand"},{"series":"DHN Heat demand"}]},
"mark": {"type": "point", "filled": true, "opacity": 0},
"encoding": {
"color": {"field": "series", "type": "nominal",
 "scale": {"domain": ["Dec. Sto.","DHN Sto.","Dec.Solar","Dec. HP","DHN Geo.","DHN_HP","Fossils","Dec. Sto","DHN Sto. ","Dec. Heat demand","DHN Heat demand"],
  "range": ["#f5503f","#f5503f","#ffff00","#ff5050","#c00000","#ff0000","#f3b78f","#f5503f","#f5503f","#5b9bd5","#9dc3e6"]},
 "legend": {"title": null, "orient": "none", "legendX": 707, "legendY": 86, "padding": 0, "rowPadding": 6.3, "labelFont": "Liberation Serif", "labelFontSize": 20, "labelColor": "#222222", "labelOffset": 6, "labelLimit": 300, "symbolSize": 64, "symbolStrokeWidth": 0, "symbolOpacity": 1}},
"shape": {"field": "series", "type": "nominal",
 "scale": {"domain": ["Dec. Sto.","DHN Sto.","Dec.Solar","Dec. HP","DHN Geo.","DHN_HP","Fossils","Dec. Sto","DHN Sto. ","Dec. Heat demand","DHN Heat demand"],
  "range": ["M-0.3,-1.1L0.3,-1.1L0.3,0.9L-0.3,0.9Z","M-1.1,0.3L1.1,0.3L1.1,1L-1.1,1Z","square","square","square","square","square","M-1,-1.2L-0.4,-1.2L-0.4,1.2L-1,1.2Z M0.2,-1.2L0.8,-1.2L0.8,1.2L0.2,1.2Z","M-1.1,0.3L1.1,0.3L1.1,1L-1.1,1Z","square","square"]},
 "legend": {"title": null, "orient": "none", "legendX": 707, "legendY": 86, "padding": 0, "rowPadding": 6.3, "labelFont": "Liberation Serif", "labelFontSize": 20, "labelColor": "#222222", "labelOffset": 6, "labelLimit": 300, "symbolSize": 64, "symbolStrokeWidth": 0, "symbolOpacity": 1}}
}
}
]
}
